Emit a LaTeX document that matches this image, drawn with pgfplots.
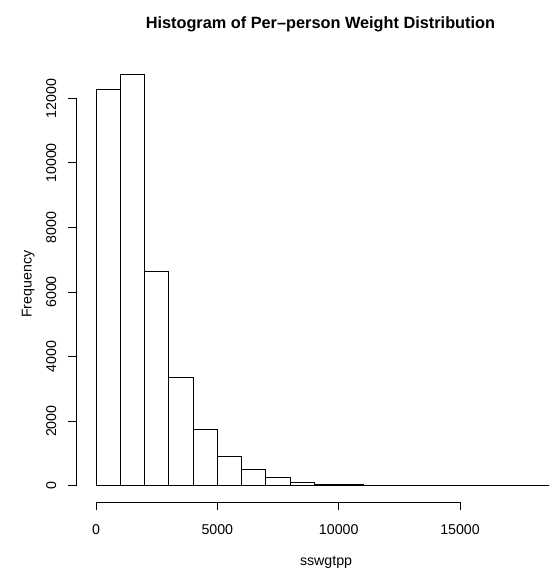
\documentclass[border=0pt]{standalone}
\usepackage{fontspec}
\setmainfont{Liberation Sans}
\usepackage{pgfplots}
\pgfplotsset{compat=1.18}
\begin{document}
\begin{tikzpicture}[x=1pt,y=1pt]
\useasboundingbox (0,0) rectangle (549,572);
% bars in R's plot region
\begin{axis}[
  at={(76.7pt,70pt)}, anchor=south west,
  scale only axis, width=472.3pt, height=444.5pt,
  xmin=-795, xmax=18665, ymin=-505, ymax=13264,
  axis line style={draw=none}, ticks=none,
  title={Histogram of Per--person Weight Distribution},
  title style={at={([yshift=22.6pt]axis description cs:0.516,1)}, anchor=base,
    inner sep=0pt, font=\bfseries\fontsize{16.3}{19}\selectfont},
  xlabel={sswgtpp}, ylabel={Frequency},
  label style={font=\fontsize{14.2}{17}\selectfont, inner sep=0pt},
  xlabel style={at={([yshift=-63pt]axis description cs:0.528,0)}, anchor=base},
  ylabel style={at={([xshift=-45.2pt]axis description cs:0,0.49)}, anchor=base},
]
\addplot[ybar interval, fill=white, draw=black, line width=0.9pt] coordinates {
(0,12270) (1000,12754) (2000,6650) (3000,3346) (4000,1750) (5000,910)
(6000,510) (7000,250) (8000,115) (9000,53) (10000,28) (11000,15)
(12000,8) (13000,6) (14000,4) (15000,3) (16000,2) (17000,2)
(18000,1) (19000,1) (20000,1)};
\end{axis}
% x axis, R style (0 to 15000)
\begin{axis}[
  at={(96pt,70pt)}, anchor=south west,
  scale only axis, width=364.05pt, height=20pt,
  xmin=0, xmax=15000, ymin=0, ymax=1,
  axis x line*=bottom, hide y axis, x axis line style={-, line width=0.9pt},
  xtick={0,5000,10000,15000}, xticklabels={0,5000,10000,15000},
  scaled ticks=false, tick align=outside, major tick length=8.5pt,
  tick style={black, line width=0.9pt},
  xticklabel style={font=\fontsize{14.2}{17}\selectfont, anchor=base, yshift=-24.1pt},
]
\end{axis}
% y axis, R style (0 to 12000)
\begin{axis}[
  at={(76.7pt,86.3pt)}, anchor=south west,
  scale only axis, width=20pt, height=387.4pt,
  xmin=0, xmax=1, ymin=0, ymax=12000,
  axis y line*=left, hide x axis, y axis line style={-, line width=0.9pt},
  ytick={0,2000,4000,6000,8000,10000,12000},
  yticklabels={0,2000,4000,6000,8000,10000,12000},
  scaled ticks=false, tick align=outside, major tick length=8.5pt,
  tick style={black, line width=0.9pt},
  yticklabel style={font=\fontsize{14.2}{17}\selectfont, anchor=base, xshift=-12pt, rotate=90},
]
\end{axis}
\end{tikzpicture}
\end{document}
